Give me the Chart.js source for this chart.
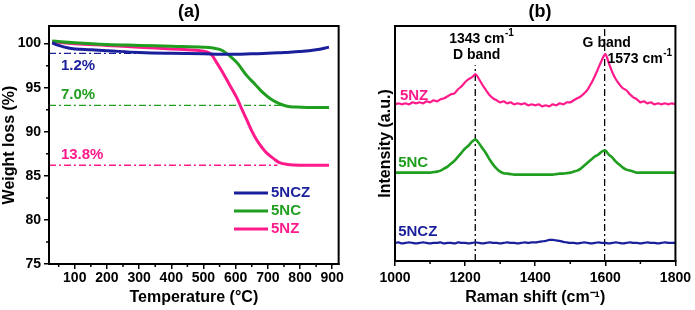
<!DOCTYPE html>
<html>
<head>
<meta charset="utf-8">
<script src="https://cdn.jsdelivr.net/npm/chart.js@4.4.0/dist/chart.umd.min.js"></script>
<style>
  html, body { margin: 0; padding: 0; background: #fff; }
  #wrap { position: relative; width: 695px; height: 310px; }
  #tga { position: absolute; left: 0; top: 0; }
  #raman { position: absolute; left: 345px; top: 0; }
</style>
</head>
<body>
<div id="wrap">
  <canvas id="tga" width="345" height="310"></canvas>
  <canvas id="raman" width="350" height="310"></canvas>
</div>
<script>
// ---- (a) TGA data ----
const tempNCZ = [30, 50, 80, 100, 150, 200, 300, 400, 500, 550, 600, 650, 700, 750, 800, 850, 890];
const lossNCZ = [100.1, 99.8, 99.5, 99.4, 99.3, 99.2, 99.0, 98.9, 98.85, 98.8, 98.8, 98.85, 98.9, 99.0, 99.1, 99.3, 99.6];

const tempNC = [30, 100, 200, 300, 400, 500, 530, 560, 600, 634, 660, 683, 710, 736, 760, 788, 820, 890];
const lossNC = [100.3, 100.1, 99.9, 99.8, 99.7, 99.6, 99.5, 99.2, 98.0, 96.4, 95.4, 94.5, 93.7, 93.2, 92.9, 92.8, 92.75, 92.75];

const tempNZ = [30, 100, 200, 300, 400, 450, 490, 520, 540, 560, 580, 603, 620, 634, 650, 665, 680, 696, 720, 736, 760, 800, 890];
const lossNZ = [100.2, 100.0, 99.8, 99.6, 99.4, 99.3, 99.2, 98.9, 97.9, 96.7, 95.4, 93.9, 92.5, 91.4, 90.1, 89.1, 88.3, 87.6, 86.9, 86.5, 86.3, 86.2, 86.2];

const residueLevel = [98.9, 93.0, 86.2];
const residueEnd = [300, 745, 730];
const residueLabel = ['1.2%', '7.0%', '13.8%'];
const sampleNames = ['5NCZ', '5NC', '5NZ'];
const tempTicks = [100, 200, 300, 400, 500, 600, 700, 800, 900];

// ---- (b) Raman data ----
const ramanShift = [
  1000, 1010, 1020, 1030, 1040, 1050, 1060, 1070, 1080, 1090,
  1100, 1110, 1120, 1130, 1140, 1150, 1160, 1170, 1180, 1190,
  1200, 1210, 1220, 1230, 1240, 1250, 1260, 1270, 1280, 1290,
  1300, 1310, 1320, 1330, 1340, 1350, 1360, 1370, 1380, 1390,
  1400, 1410, 1420, 1430, 1440, 1450, 1460, 1470, 1480, 1490,
  1500, 1510, 1520, 1530, 1540, 1550, 1560, 1570, 1580, 1590,
  1600, 1610, 1620, 1630, 1640, 1650, 1660, 1670, 1680, 1690,
  1700, 1710, 1720, 1730, 1740, 1750, 1760, 1770, 1780, 1790,
  1800
];
const ramanNZ = [
  156, 157, 156, 157, 156, 158, 157, 158, 157, 159,
  158, 160, 159, 161, 162, 164, 166, 167, 171, 174,
  178, 181, 183, 186, 181, 175, 170, 165, 162, 160,
  158, 159, 157, 158, 156, 157, 156, 157, 155, 156,
  155, 156, 154, 155, 154, 156, 155, 157, 156, 158,
  158, 160, 162, 164, 167, 171, 177, 184, 192, 200,
  206, 197, 188, 181, 176, 172, 170, 166, 163, 161,
  158, 159, 157, 158, 156, 157, 156, 157, 156, 157,
  156
];
const ramanNC = [
  88, 88, 88, 88, 88, 88, 88, 88, 88, 88,
  88, 88.5, 89, 90, 92, 94, 97, 100, 104, 108,
  112, 115, 119, 121, 117, 112, 107, 101, 96, 92,
  89, 87.5, 87, 86.5, 86, 86, 86, 86, 86, 86,
  86, 86, 86, 86, 86, 86, 86.5, 87, 87, 87.5,
  88, 89, 90, 92, 95, 98, 101, 104, 106, 109,
  110, 106, 103, 99, 96, 93, 91, 90, 89, 88,
  88, 88, 88, 88, 88, 88, 88, 88, 88, 88,
  88
];
const ramanNCZ = [
  18, 18.5, 17.5, 18, 18.5, 18, 17.5, 18, 18.5, 18,
  17.5, 18, 18, 18.5, 17.5, 18, 18, 17.5, 18.5, 18,
  18, 17.5, 18, 18.5, 18, 17.5, 18, 18.5, 18, 18,
  17.5, 18, 18.5, 18, 18, 17.5, 18, 18.5, 18, 18.5,
  18.5, 19, 19.5, 20, 21, 21, 20.5, 20, 19, 18.5,
  18, 18, 17.5, 18, 18.5, 18, 17.5, 18, 18.5, 18,
  18, 17.5, 18, 18.5, 18, 17.5, 18, 18.5, 18, 18,
  17.5, 18, 18.5, 18, 18, 17.5, 18, 18.5, 18, 18,
  18
];
const bandPos = [1229, 1598];
const bandTop = [195, 234];
const shiftTicks = [1000, 1200, 1400, 1600, 1800];

const colors = { NCZ: '#1a1f9b', NC: '#1f9e1f', NZ: '#ff1a8c' };
const FONT = 'Liberation Sans, Arial, sans-serif';

function pts(xs, ys) { return xs.map((x, i) => ({ x: x, y: ys[i] })); }

function text(ctx, str, x, y, color, align, size) {
  ctx.font = 'bold ' + (size || 14) + 'px ' + FONT;
  ctx.fillStyle = color;
  ctx.textAlign = align || 'left';
  ctx.textBaseline = 'middle';
  ctx.fillText(str, x, y);
  return ctx.measureText(str).width;
}

// "xxxx cm" followed by a small raised "-1"
function wavenumber(ctx, num, x, y, align) {
  ctx.font = 'bold 14px ' + FONT;
  const main = num + ' cm';
  const w = ctx.measureText(main).width;
  ctx.font = 'bold 10px ' + FONT;
  const ws = ctx.measureText('-1').width;
  let left = x;
  if (align === 'center') left = x - (w + ws) / 2;
  text(ctx, main, left, y, '#000', 'left', 14);
  text(ctx, '-1', left + w + 0.5, y - 6, '#000', 'left', 10);
}

function frame(ctx, a) {
  ctx.strokeStyle = '#000';
  ctx.lineWidth = 2;
  ctx.strokeRect(a.left, a.top, a.right - a.left, a.bottom - a.top);
}

// ---------------- (a) ----------------
const tgaColors = [colors.NCZ, colors.NC, colors.NZ];
const tgaSets = [
  { label: '5NCZ', data: pts(tempNCZ, lossNCZ), borderColor: colors.NCZ },
  { label: '5NC', data: pts(tempNC, lossNC), borderColor: colors.NC },
  { label: '5NZ', data: pts(tempNZ, lossNZ), borderColor: colors.NZ }
].map(d => Object.assign(d, { borderWidth: 3, pointRadius: 0, tension: 0.4, fill: false }));

residueLevel.forEach((lv, i) => {
  tgaSets.push({
    label: 'ref' + i,
    data: [{ x: 20, y: lv }, { x: residueEnd[i], y: lv }],
    borderColor: tgaColors[i], borderWidth: 1.3, borderDash: [7, 3, 2, 3], pointRadius: 0
  });
});

const tgaDeco = {
  id: 'tgaDeco',
  afterDraw(chart) {
    const { ctx, chartArea: a, scales: { x, y } } = chart;
    ctx.save();
    frame(ctx, a);
    ctx.lineWidth = 1.5;
    ctx.strokeStyle = '#000';
    ctx.beginPath();
    for (let t = 50; t <= 900; t += 100) {
      const px = x.getPixelForValue(t);
      ctx.moveTo(px, a.bottom); ctx.lineTo(px, a.bottom + 3);
    }
    for (let v = 77.5; v < 102; v += 5) {
      const py = y.getPixelForValue(v);
      ctx.moveTo(a.left, py); ctx.lineTo(a.left - 3, py);
    }
    ctx.stroke();
    const labelY = [97.45, 94.2, 87.4];
    residueLabel.forEach((s, i) => text(ctx, s, x.getPixelForValue(57), y.getPixelForValue(labelY[i]), tgaColors[i], 'left', 15));
    sampleNames.forEach((s, i) => {
      const yy = 193 + i * 18;
      ctx.strokeStyle = tgaColors[i]; ctx.lineWidth = 3;
      ctx.beginPath(); ctx.moveTo(234, yy); ctx.lineTo(268, yy); ctx.stroke();
      text(ctx, s, 271, yy, tgaColors[i], 'left', 15);
    });
    text(ctx, '(a)', 189, 12, '#000', 'center', 18);
    ctx.restore();
  }
};

new Chart(document.getElementById('tga'), {
  type: 'line',
  data: { datasets: tgaSets },
  options: {
    responsive: false,
    animation: false,
    layout: { padding: { top: 26, right: 5, left: 0, bottom: 0 } },
    plugins: { legend: { display: false }, tooltip: { enabled: false } },
    scales: {
      x: {
        type: 'linear', min: 20, max: 920,
        afterFit(s) { s.height = 46; },
        afterBuildTicks(s) { s.ticks = tempTicks.map(v => ({ value: v })); },
        ticks: { autoSkip: false, maxRotation: 0, padding: 1, color: '#000', font: { family: FONT, size: 14, weight: 'bold' } },
        grid: { drawOnChartArea: false, tickLength: 5, color: '#000', lineWidth: 1.5 },
        border: { color: '#000', width: 2 },
        title: { display: true, text: 'Temperature (°C)', color: '#000', font: { family: FONT, size: 16, weight: 'bold' }, padding: { top: 0, bottom: 3 } }
      },
      y: {
        min: 75, max: 102,
        afterFit(s) { s.width = 49; },
        ticks: { stepSize: 5, includeBounds: false, padding: 3, color: '#000', font: { family: FONT, size: 14, weight: 'bold' } },
        grid: { drawOnChartArea: false, tickLength: 5, color: '#000', lineWidth: 1.5 },
        border: { color: '#000', width: 2 },
        title: { display: true, text: 'Weight loss (%)', color: '#000', font: { family: FONT, size: 16, weight: 'bold' }, padding: 0 }
      }
    }
  },
  plugins: [tgaDeco]
});

// ---------------- (b) ----------------
const ramanSets = [
  { label: '5NZ', data: pts(ramanShift, ramanNZ), borderColor: colors.NZ, borderWidth: 2.2 },
  { label: '5NC', data: pts(ramanShift, ramanNC), borderColor: colors.NC, borderWidth: 2.6 },
  { label: '5NCZ', data: pts(ramanShift, ramanNCZ), borderColor: colors.NCZ, borderWidth: 2.2 }
].map(d => Object.assign(d, { pointRadius: 0, tension: 0.3, fill: false }));

bandPos.forEach((b, i) => {
  ramanSets.push({
    label: 'band' + i,
    data: [{ x: b, y: 0 }, { x: b, y: bandTop[i] }],
    borderColor: '#000', borderWidth: 1.3, borderDash: [7, 3, 2, 3], pointRadius: 0
  });
});

const ramanDeco = {
  id: 'ramanDeco',
  afterDraw(chart) {
    const { ctx, chartArea: a, scales: { x, y } } = chart;
    ctx.save();
    frame(ctx, a);
    ctx.lineWidth = 1.5;
    ctx.strokeStyle = '#000';
    ctx.beginPath();
    for (let t = 1100; t < 1800; t += 200) {
      const px = x.getPixelForValue(t);
      ctx.moveTo(px, a.bottom); ctx.lineTo(px, a.bottom + 3);
    }
    ctx.stroke();
    wavenumber(ctx, '1343', x.getPixelForValue(1246), y.getPixelForValue(221), 'center');
    text(ctx, 'D band', x.getPixelForValue(1233), y.getPixelForValue(205), '#000', 'center', 14);
    text(ctx, 'G band', x.getPixelForValue(1604), y.getPixelForValue(217), '#000', 'center', 14);
    wavenumber(ctx, '1573', x.getPixelForValue(1606), y.getPixelForValue(201), 'left');
    text(ctx, '5NZ', x.getPixelForValue(1014), y.getPixelForValue(164), colors.NZ, 'left', 15);
    text(ctx, '5NC', x.getPixelForValue(1009), y.getPixelForValue(98), colors.NC, 'left', 15);
    text(ctx, '5NCZ', x.getPixelForValue(1009), y.getPixelForValue(29), colors.NCZ, 'left', 15);
    text(ctx, '(b)', 195, 12, '#000', 'center', 18);
    ctx.restore();
  }
};

new Chart(document.getElementById('raman'), {
  type: 'line',
  data: { datasets: ramanSets },
  options: {
    responsive: false,
    animation: false,
    layout: { padding: { top: 26, right: 18, left: 31, bottom: 0 } },
    plugins: { legend: { display: false }, tooltip: { enabled: false } },
    scales: {
      x: {
        type: 'linear', min: 1000, max: 1800,
        afterFit(s) { s.height = 49; },
        afterBuildTicks(s) { s.ticks = shiftTicks.map(v => ({ value: v })); },
        ticks: { autoSkip: false, maxRotation: 0, padding: 4, color: '#000', font: { family: FONT, size: 14, weight: 'bold' }, callback: v => String(v) },
        grid: { drawOnChartArea: false, tickLength: 5, color: '#000', lineWidth: 1.5 },
        border: { color: '#000', width: 2 },
        title: { display: true, text: 'Raman shift (cm⁻¹)', color: '#000', font: { family: FONT, size: 16, weight: 'bold' }, padding: { top: 0, bottom: 3 } }
      },
      y: {
        min: 0, max: 234,
        afterFit(s) { s.width = 19; },
        ticks: { display: false },
        grid: { display: false },
        border: { color: '#000', width: 2 },
        title: { display: true, text: 'Intensity (a.u.)', color: '#000', font: { family: FONT, size: 16, weight: 'bold' }, padding: 0 }
      }
    }
  },
  plugins: [ramanDeco]
});
</script>
</body>
</html>
